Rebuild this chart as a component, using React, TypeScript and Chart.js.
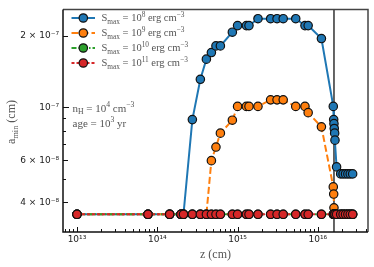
import React, { useEffect, useRef } from 'react';
import { Chart, registerables } from 'chart.js';

Chart.register(...registerables);

// ---- data ----
const zValues = [
  1.0e13, 7.66e13, 1.426e14, 1.972e14, 2.12e14, 2.735e14, 3.44e14, 4.09e14, 4.72e14, 5.38e14,
  6.11e14, 8.61e14, 1.0e15, 1.288e15, 1.387e15, 1.795e15, 2.58e15, 3.1e15, 3.7e15, 5.3e15,
  6.91e15, 7.57e15, 1.107e16, 1.556e16, 1.574e16, 1.586e16, 1.6e16, 1.618e16, 1.633e16, 1.71e16,
  1.923e16, 2.06e16, 2.21e16, 2.365e16, 2.53e16, 2.71e16,
];

const aminS8 = [
  3.56e-8, 3.56e-8, 3.56e-8, 3.56e-8, 3.56e-8, 8.89e-8, 1.313e-7, 1.595e-7, 1.7e-7, 1.813e-7,
  1.813e-7, 2.07e-7, 2.206e-7, 2.206e-7, 2.206e-7, 2.358e-7, 2.358e-7, 2.358e-7, 2.358e-7, 2.358e-7,
  2.206e-7, 2.206e-7, 1.946e-7, 1.01e-7, 8.89e-8, 8.55e-8, 8.16e-8, 7.8e-8, 7.29e-8, 5.63e-8,
  5.26e-8, 5.26e-8, 5.26e-8, 5.26e-8, 5.26e-8, 5.26e-8,
];

const aminS9 = [
  3.56e-8, 3.56e-8, 3.56e-8, 3.56e-8, 3.56e-8, 3.56e-8, 3.56e-8, 3.56e-8, 5.98e-8, 6.82e-8,
  7.8e-8, 8.84e-8, 1.01e-7, 1.01e-7, 1.01e-7, 1.01e-7, 1.076e-7, 1.076e-7, 1.076e-7, 1.01e-7,
  1.01e-7, 9.51e-8, 8.29e-8, 4.64e-8, 4.33e-8, 3.79e-8, 3.56e-8, 3.56e-8, 3.56e-8, 3.56e-8,
  3.56e-8, 3.56e-8, 3.56e-8, 3.56e-8, 3.56e-8, 3.56e-8,
];

const aminS10 = [
  3.56e-8, 3.56e-8, 3.56e-8, 3.56e-8, 3.56e-8, 3.56e-8, 3.56e-8, 3.56e-8, 3.56e-8, 3.56e-8,
  3.56e-8, 3.56e-8, 3.56e-8, 3.56e-8, 3.56e-8, 3.56e-8, 3.56e-8, 3.56e-8, 3.56e-8, 3.56e-8,
  3.56e-8, 3.56e-8, 3.56e-8, 3.56e-8, 3.56e-8, 3.56e-8, 3.56e-8, 3.56e-8, 3.56e-8, 3.56e-8,
  3.56e-8, 3.56e-8, 3.56e-8, 3.56e-8, 3.56e-8, 3.56e-8,
];

const aminS11 = [
  3.56e-8, 3.56e-8, 3.56e-8, 3.56e-8, 3.56e-8, 3.56e-8, 3.56e-8, 3.56e-8, 3.56e-8, 3.56e-8,
  3.56e-8, 3.56e-8, 3.56e-8, 3.56e-8, 3.56e-8, 3.56e-8, 3.56e-8, 3.56e-8, 3.56e-8, 3.56e-8,
  3.56e-8, 3.56e-8, 3.56e-8, 3.56e-8, 3.56e-8, 3.56e-8, 3.56e-8, 3.56e-8, 3.56e-8, 3.56e-8,
  3.56e-8, 3.56e-8, 3.56e-8, 3.56e-8, 3.56e-8, 3.56e-8,
];

const seriesExponents = ['8', '9', '10', '11'];
const xTickValues = [1e13, 1e14, 1e15, 1e16];
const xTickLabels = ['10¹³', '10¹⁴', '10¹⁵', '10¹⁶'];
const yTickValues = [4e-8, 6e-8, 1e-7, 2e-7];
const yTickLabels = ['4 × 10⁻⁸', '6 × 10⁻⁸', '10⁻⁷', '2 × 10⁻⁷'];
const xMin = 6.7e12;
const xMax = 4.21e16;
const yMin = 3.24e-8;
const yMax = 2.58e-7;
const vLineZ = 1.587e16;
const densityExp = '4';
const ageExp = '3';

const COLORS = ['#1f77b4', '#ff7f0e', '#2ca02c', '#d62728'];
const DASHES: number[][] = [[], [7, 3], [5, 2, 1.5, 2], [3, 2]];
const SERIF = "'Liberation Serif', 'DejaVu Serif', serif";
const SANS = "'DejaVu Sans', sans-serif";
const TEXT_GRAY = '#555';

type Seg = [string, ('sub' | 'sup')?];

function drawRich(
  ctx: CanvasRenderingContext2D,
  x: number,
  yMid: number,
  segs: Seg[],
  size: number,
  color: string,
  align: 'left' | 'center' = 'left'
) {
  const parts = segs.map(([t, k]) => {
    const fs = k ? size * 0.7 : size;
    ctx.font = `${fs}px ${SERIF}`;
    return { t, k, fs, w: ctx.measureText(t).width };
  });
  const total = parts.reduce((a, p) => a + p.w, 0);
  let cx = align === 'center' ? x - total / 2 : x;
  const base = yMid + size * 0.33;
  ctx.fillStyle = color;
  ctx.textAlign = 'left';
  ctx.textBaseline = 'alphabetic';
  for (const p of parts) {
    ctx.font = `${p.fs}px ${SERIF}`;
    const dy = p.k === 'sub' ? size * 0.22 : p.k === 'sup' ? -size * 0.38 : 0;
    ctx.fillText(p.t, cx, base + dy);
    cx += p.w;
  }
}

const decorPlugin = {
  id: 'decor',
  beforeDatasetsDraw(chart: any) {
    const { ctx, chartArea, scales } = chart;
    const x = scales.x.getPixelForValue(vLineZ);
    ctx.save();
    ctx.strokeStyle = '#555';
    ctx.lineWidth = 1.8;
    ctx.beginPath();
    ctx.moveTo(x, chartArea.top);
    ctx.lineTo(x, chartArea.bottom);
    ctx.stroke();
    ctx.restore();
  },
  afterDatasetsDraw(chart: any) {
    const { ctx, chartArea, scales } = chart;
    const { left, right, top, bottom } = chartArea;
    ctx.save();
    // spines
    ctx.lineWidth = 1.5;
    ctx.strokeStyle = '#444';
    ctx.beginPath();
    ctx.moveTo(left, top);
    ctx.lineTo(right, top);
    ctx.lineTo(right, bottom);
    ctx.stroke();
    ctx.strokeStyle = '#111';
    ctx.beginPath();
    ctx.moveTo(left, top);
    ctx.lineTo(left, bottom);
    ctx.lineTo(right, bottom);
    ctx.stroke();

    // x ticks (inward)
    ctx.lineWidth = 1;
    ctx.strokeStyle = '#111';
    for (let e = 12; e <= 16; e++) {
      for (let k = 1; k <= 9; k++) {
        const v = k * Math.pow(10, e);
        if (v < xMin || v > xMax) continue;
        const px = Math.round(scales.x.getPixelForValue(v)) + 0.5;
        const len = k === 1 ? 5 : 3;
        ctx.beginPath();
        ctx.moveTo(px, bottom);
        ctx.lineTo(px, bottom - len);
        ctx.stroke();
      }
    }
    // y ticks (inward)
    for (let e = -8; e <= -7; e++) {
      for (let k = 1; k <= 9; k++) {
        const v = k * Math.pow(10, e);
        if (v < yMin || v > yMax) continue;
        const py = Math.round(scales.y.getPixelForValue(v)) + 0.5;
        const labelled = yTickValues.some((t) => Math.abs(t - v) / v < 1e-6);
        const len = k === 1 ? 6 : labelled ? 5 : 3;
        ctx.beginPath();
        ctx.moveTo(left, py);
        ctx.lineTo(left + len, py);
        ctx.stroke();
      }
    }

    // legend
    const ds = chart.data.datasets;
    for (let i = 0; i < ds.length; i++) {
      const yy = 18 + i * 15;
      ctx.save();
      ctx.strokeStyle = ds[i].borderColor;
      ctx.lineWidth = 2;
      ctx.setLineDash(ds[i].borderDash || []);
      ctx.beginPath();
      ctx.moveTo(71.5, yy);
      ctx.lineTo(95, yy);
      ctx.stroke();
      ctx.restore();
      ctx.beginPath();
      ctx.arc(83.3, yy, 4.2, 0, Math.PI * 2);
      ctx.fillStyle = ds[i].pointBackgroundColor;
      ctx.fill();
      ctx.lineWidth = 1.2;
      ctx.strokeStyle = '#111';
      ctx.stroke();
      drawRich(
        ctx,
        101.5,
        yy,
        [['S'], ['max', 'sub'], [' = 10'], [seriesExponents[i], 'sup'], [' erg cm'], ['−3', 'sup']],
        10.5,
        TEXT_GRAY
      );
    }

    // annotation
    drawRich(ctx, 72.5, 108, [['n'], ['H', 'sub'], [' = 10'], [densityExp, 'sup'], [' cm'], ['−3', 'sup']], 11, TEXT_GRAY);
    drawRich(ctx, 72.5, 123, [['age = 10'], [ageExp, 'sup'], [' yr']], 11, TEXT_GRAY);

    // y axis title
    ctx.save();
    ctx.translate(11, 122);
    ctx.rotate(-Math.PI / 2);
    drawRich(ctx, 0, 0, [['a'], ['min', 'sub'], [' (cm)']], 12, TEXT_GRAY, 'center');
    ctx.restore();

    ctx.restore();
  },
};

export default function App() {
  const ref = useRef<HTMLCanvasElement>(null);

  useEffect(() => {
    if (!ref.current) return;
    const series = [aminS8, aminS9, aminS10, aminS11];
    const datasets = series.map((vals, i) => ({
      label: `Smax = 10^${seriesExponents[i]} erg cm^-3`,
      data: zValues.map((z, j) => ({ x: z, y: vals[j] })),
      borderColor: COLORS[i],
      backgroundColor: COLORS[i],
      borderWidth: 2,
      borderDash: DASHES[i],
      pointBackgroundColor: COLORS[i],
      pointBorderColor: '#111',
      pointBorderWidth: 1.2,
      pointRadius: 4.2,
      tension: 0,
      order: 4 - i,
    }));

    const chart = new Chart(ref.current, {
      type: 'line',
      data: { datasets },
      options: {
        animation: false,
        responsive: false,
        layout: { padding: { top: 5, right: 6, left: 0, bottom: 0 } },
        plugins: { legend: { display: false }, tooltip: { enabled: false } },
        scales: {
          x: {
            type: 'logarithmic',
            position: 'bottom',
            min: xMin,
            max: xMax,
            grid: { display: false, drawTicks: false },
            border: { display: false },
            afterBuildTicks: (s: any) => {
              s.ticks = xTickValues.map((v) => ({ value: v }));
            },
            afterFit: (s: any) => {
              s.height = 35;
            },
            ticks: {
              autoSkip: false,
              maxRotation: 0,
              padding: 2,
              color: '#222',
              font: { family: SANS, size: 9 },
              callback: (_v: any, i: number) => xTickLabels[i],
            },
            title: {
              display: true,
              text: 'z (cm)',
              color: TEXT_GRAY,
              font: { family: SERIF, size: 12 },
              padding: { top: 0, bottom: 5 },
            },
          },
          y: {
            type: 'logarithmic',
            min: yMin,
            max: yMax,
            grid: { display: false, drawTicks: false },
            border: { display: false },
            afterBuildTicks: (s: any) => {
              s.ticks = yTickValues.map((v) => ({ value: v }));
            },
            afterFit: (s: any) => {
              s.width = 63;
            },
            ticks: {
              autoSkip: false,
              padding: 4,
              color: '#222',
              font: { family: SANS, size: 9 },
              callback: (_v: any, i: number) => yTickLabels[i],
            },
          },
        },
      },
      plugins: [decorPlugin],
    } as any);

    return () => chart.destroy();
  }, []);

  return (
    <div style={{ position: 'fixed', left: 0, top: 0, width: 374, height: 267, background: '#fff' }}>
      <canvas ref={ref} width={374} height={267} style={{ display: 'block' }} />
    </div>
  );
}
